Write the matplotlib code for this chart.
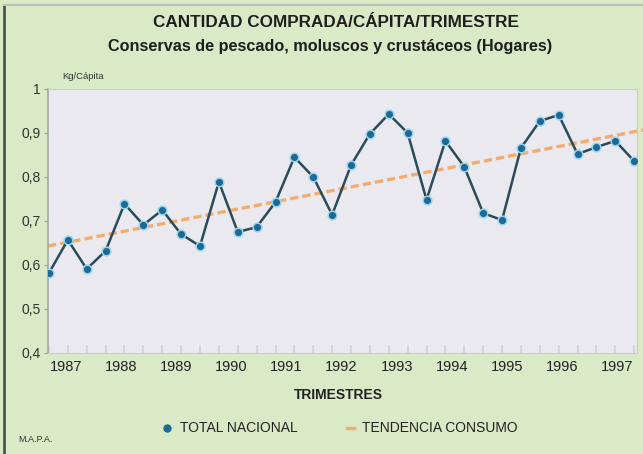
import numpy as np
import matplotlib
matplotlib.use("Agg")
import matplotlib.pyplot as plt
from matplotlib.lines import Line2D

# quarterly purchases, kg per capita
total_nacional = [0.582, 0.657, 0.591, 0.632, 0.739, 0.691, 0.725, 0.670,
                  0.643, 0.789, 0.675, 0.686, 0.743, 0.845, 0.800, 0.714,
                  0.827, 0.898, 0.943, 0.900, 0.748, 0.882, 0.823, 0.718,
                  0.702, 0.866, 0.927, 0.941, 0.852, 0.868, 0.882, 0.836]
trend_x = [-0.05, 31.5]
trend_y = [0.643, 0.907]
years = ['1987', '1988', '1989', '1990', '1991', '1992',
         '1993', '1994', '1995', '1996', '1997']
yticks = [0.4, 0.5, 0.6, 0.7, 0.8, 0.9, 1.0]
ylabels = ['0,4', '0,5', '0,6', '0,7', '0,8', '0,9', '1']

plt.rcParams['font.family'] = ['Liberation Sans', 'DejaVu Sans']

bg = '#dbeac6'
fig = plt.figure(figsize=(6.43, 4.54), dpi=100, facecolor=bg)
ax = fig.add_axes([0.0747, 0.2225, 0.916, 0.5815])
ax.set_facecolor('#eae9f0')

x = np.arange(len(total_nacional))
ax.plot(trend_x, trend_y, color='#f2ad6e', lw=2.4, ls=(0, (2.5, 1.2)),
        clip_on=False, zorder=2)
ax.plot(x, total_nacional, color='#2a4b5a', lw=1.8, zorder=3)
ax.plot(x, total_nacional, ls='none', marker='o', ms=6.2,
        mfc='#1d6894', mec='#95d5ea', mew=1.1, zorder=4)

ax.set_xlim(-0.05, 31.15)
ax.set_ylim(0.4, 1.0)
ax.set_yticks(yticks)
ax.set_yticklabels(ylabels, fontsize=10, color='#333333')
ax.set_xticks(np.linspace(0.9, 30.1, 11))
ax.set_xticklabels(years, fontsize=10.5, color='#222222')
ax.set_xticks(x, minor=True)
ax.tick_params(axis='x', which='major', length=0, pad=5)
ax.tick_params(axis='x', which='minor', direction='in', length=6,
               color='#d2d2da', width=1.2)
ax.tick_params(axis='y', length=3, color='#9aa0a0', pad=2)
for s in ax.spines.values():
    s.set_color('#c9cfc6')
ax.spines['left'].set_color('#a0aaa0')
ax.spines['left'].set_linewidth(1.2)

fig.text(0.523, 0.951, 'CANTIDAD COMPRADA/CÁPITA/TRIMESTRE', ha='center',
         va='center', fontsize=12.3, fontweight='bold', color='#1e1e1e')
fig.text(0.514, 0.898, 'Conservas de pescado, moluscos y crustáceos (Hogares)',
         ha='center', va='center', fontsize=11.7, fontweight='bold', color='#1e1e1e')
fig.text(0.097, 0.832, 'Kg/Cápita', ha='left', va='center', fontsize=6.8,
         color='#333333')
fig.text(0.526, 0.13, 'TRIMESTRES', ha='center', va='center', fontsize=10,
         fontweight='bold', color='#222222')
fig.text(0.028, 0.031, 'M.A.P.A.', ha='left', va='center', fontsize=6.5,
         color='#333333')

# legend drawn by hand to match the layout
fig.add_artist(Line2D([0.26], [0.057], transform=fig.transFigure, ls='none',
                      marker='o', ms=5, mfc='#1d6894', mec='#1d6894'))
fig.text(0.28, 0.057, 'TOTAL NACIONAL', ha='left', va='center', fontsize=10,
         color='#222222')
fig.add_artist(Line2D([0.54, 0.55], [0.057, 0.057], transform=fig.transFigure,
                      color='#f2ad6e', lw=2.5))
fig.text(0.563, 0.057, 'TENDENCIA CONSUMO', ha='left', va='center', fontsize=10,
         color='#222222')

# frame edge on the left
fig.add_artist(Line2D([0.006, 0.006], [0.0, 0.99], transform=fig.transFigure,
                      color='#4a5650', lw=2))
fig.add_artist(Line2D([0.006, 1.0], [0.99, 0.99], transform=fig.transFigure,
                      color='#b9c0b4', lw=1.5))

fig.savefig('out.png', dpi=100, facecolor=bg)
